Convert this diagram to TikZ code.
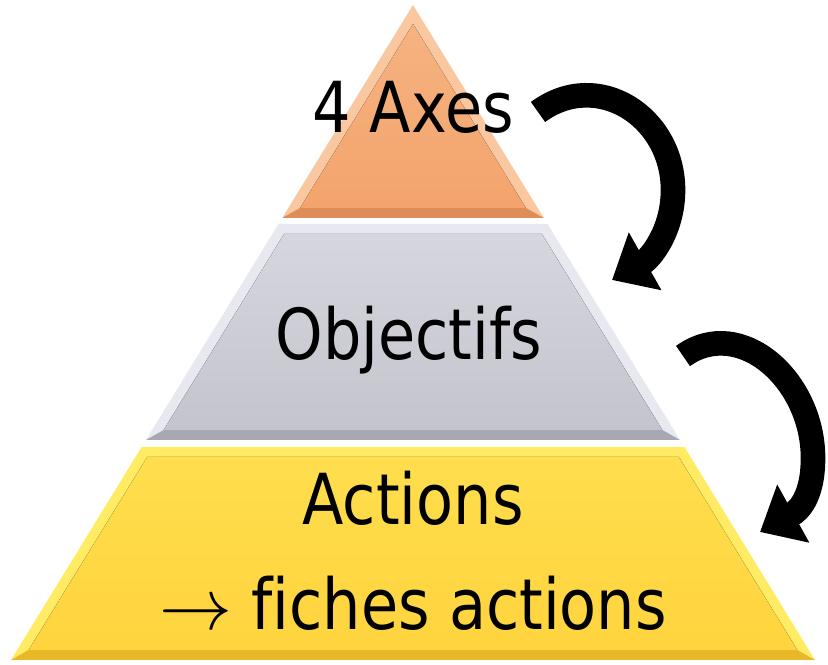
\documentclass[tikz,border=0pt]{standalone}
\usepackage{fontspec}
\setmainfont{DejaVu Sans}[FakeStretch=0.86,Ligatures=NoCommon]
\usetikzlibrary{arrows.meta}
\definecolor{axeslight}{RGB}{250,200,160}
\definecolor{axesmain}{RGB}{243,164,108}
\definecolor{axesdark}{RGB}{222,140,88}
\definecolor{objlight}{RGB}{232,233,240}
\definecolor{objmain}{RGB}{196,196,204}
\definecolor{objdark}{RGB}{168,168,178}
\definecolor{actlight}{RGB}{255,236,100}
\definecolor{actmain}{RGB}{255,212,62}
\definecolor{actdark}{RGB}{232,184,40}
\tikzset{
  tiertext/.style={anchor=base,inner sep=0pt,font=\fontsize{20}{24}\selectfont},
  bendarrow/.style={line width=7pt,-{Triangle[length=3.8mm,width=6.4mm]}},
}
\begin{document}
\begin{tikzpicture}[x=0.01cm,y=-0.01cm]
\useasboundingbox (0,0) rectangle (828,665);
\fill[axeslight] (413,5)--(282.2,218)--(543.8,218)--cycle;
\fill[axesdark] (282.2,218)--(543.8,218)--(525.9,208)--(300.1,208)--cycle;
\fill[top color=axeslight!40!axesmain,bottom color=axesmain] (413,24)--(300.1,208)--(525.9,208)--cycle;
\fill[objlight] (278.5,224)--(547.5,224)--(680,440)--(146,440)--cycle;
\fill[objdark] (146,440)--(680,440)--(662.3,430)--(163.7,430)--cycle;
\fill[top color=objlight!50!objmain,bottom color=objmain] (284.1,234)--(541.9,234)--(662.3,430)--(163.7,430)--cycle;
\fill[actlight] (141.6,447)--(684.4,447)--(815,660)--(11,660)--cycle;
\fill[actdark] (11,660)--(815,660)--(797.3,650)--(28.7,650)--cycle;
\fill[top color=actlight!40!actmain,bottom color=actmain] (147.2,457)--(678.8,457)--(797.3,650)--(28.7,650)--cycle;
\node[tiertext] (axes) at (413,133) {4 Axes};
\node[tiertext] (objectifs) at (409,360) {Objectifs};
\node[tiertext] (actions) at (413,525) {Actions};
\node[tiertext] (fiches) at (413,630) {$\rightarrow$ fiches actions};
\coordinate (a1start) at (538,112);
\coordinate (a1mid) at (673,190);
\coordinate (a1end) at (612,280);
\coordinate (a2start) at (683,356);
\coordinate (a2mid) at (813,458);
\coordinate (a2end) at (760,532);
\draw[bendarrow] (a1start) .. controls (597.8,67.9) and (673,117) .. (a1mid) .. controls (673,232) and (649.4,258.9) .. (a1end);
\draw[bendarrow] (a2start) .. controls (740,315) and (813,380) .. (a2mid) .. controls (813,498) and (798,511) .. (a2end);
\end{tikzpicture}
\end{document}
